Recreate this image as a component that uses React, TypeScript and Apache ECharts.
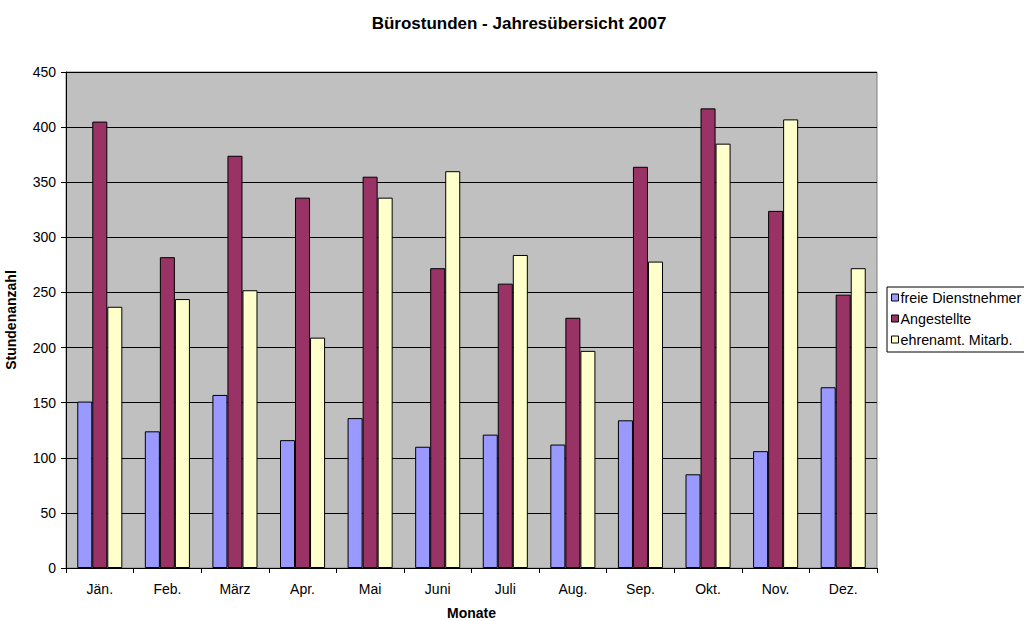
import React, { useEffect, useRef } from "react";
import * as echarts from "echarts";

const months = ["Jän.", "Feb.", "März", "Apr.", "Mai", "Juni", "Juli", "Aug.", "Sep.", "Okt.", "Nov.", "Dez."];
const freieDienstnehmer = [151, 124, 157, 116, 136, 110, 121, 112, 134, 85, 106, 164];
const angestellte = [405, 282, 374, 336, 355, 272, 258, 227, 364, 417, 324, 248];
const ehrenamt = [237, 244, 252, 209, 336, 360, 284, 197, 278, 385, 407, 272];
const seriesNames = ["freie Dienstnehmer", "Angestellte", "ehrenamt. Mitarb."];
const seriesColors = ["#9999FF", "#993366", "#FFFFCC"];

const FONT = "Liberation Sans, Arial, sans-serif";

export default function App() {
  const ref = useRef<HTMLDivElement>(null);
  useEffect(() => {
    if (!ref.current) return;
    const chart = echarts.init(ref.current, undefined, { renderer: "svg" });
    const data = [freieDienstnehmer, angestellte, ehrenamt];
    chart.setOption({
      animation: false,
      backgroundColor: "#FFFFFF",
      textStyle: { fontFamily: FONT },
      title: {
        text: "Bürostunden - Jahresübersicht 2007",
        left: 514,
        textAlign: "center",
        top: 10,
        textStyle: { fontFamily: FONT, fontSize: 17, fontWeight: "bold", color: "#000" },
      },
      legend: {
        orient: "vertical",
        left: 887,
        top: 287,
        padding: [3, 40, 5, 4],
        borderColor: "#000",
        borderWidth: 1,
        backgroundColor: "#FFFFFF",
        itemWidth: 7,
        itemHeight: 7,
        itemGap: 6,
        icon: "rect",
        itemStyle: { borderColor: "#000", borderWidth: 1 },
        textStyle: { fontFamily: FONT, fontSize: 14.3, color: "#000", padding: [0, 0, 0, -3], lineHeight: 15 },
        data: seriesNames,
      },
      grid: {
        left: 66,
        top: 72,
        right: 147,
        bottom: 53,
        outerBoundsMode: "none",
        containLabel: false,
        show: true,
        backgroundColor: "#C0C0C0",
        borderColor: "#808080",
        borderWidth: 1,
      },
      xAxis: {
        type: "category",
        data: months,
        name: "Monate",
        nameLocation: "middle",
        nameGap: 38,
        nameTextStyle: { fontFamily: FONT, fontSize: 14, fontWeight: "bold", color: "#000" },
        axisLine: { lineStyle: { color: "#000", width: 1 } },
        axisTick: { show: true, inside: false, length: 5, lineStyle: { color: "#000" } },
        axisLabel: { fontFamily: FONT, fontSize: 14, color: "#000", margin: 14 },
        splitLine: { show: false },
      },
      yAxis: {
        type: "value",
        min: 0,
        max: 450,
        interval: 50,
        name: "Stundenanzahl",
        nameLocation: "middle",
        nameRotate: 90,
        nameGap: 48,
        nameTextStyle: { fontFamily: FONT, fontSize: 14, fontWeight: "bold", color: "#000" },
        axisLine: { show: true, lineStyle: { color: "#000", width: 1 } },
        axisTick: { show: true, inside: false, length: 5, lineStyle: { color: "#000" } },
        axisLabel: { fontFamily: FONT, fontSize: 14, color: "#000", margin: 10 },
        splitLine: { show: true, lineStyle: { color: "#000", width: 1 } },
      },
      series: data.map((d, i) => ({
        name: seriesNames[i],
        type: "bar",
        data: d,
        barGap: "0%",
        barCategoryGap: "33.3%",
        itemStyle: { color: seriesColors[i], borderColor: "#000", borderWidth: 1 },
      })),
    });
    return () => chart.dispose();
  }, []);
  return <div ref={ref} style={{ width: 1024, height: 621, position: "absolute", left: 0, top: 0 }} />;
}
